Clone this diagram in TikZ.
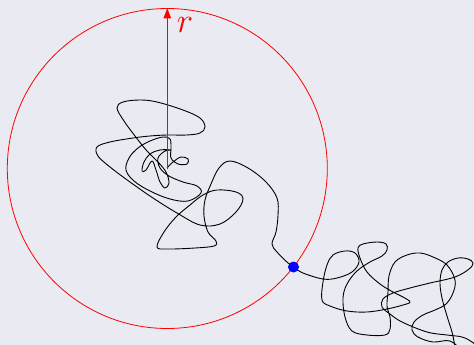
\documentclass[tikz,border=0pt]{standalone}
\usetikzlibrary{arrows.meta}
\definecolor{bgc}{HTML}{EAEAF2}
\tikzset{
  walk/.style={black, line width=0.9pt, line join=round},
  ring/.style={red, line width=0.8pt},
  radiusarrow/.style={red, line width=0.8pt, -{Triangle[length=10pt,width=7.5pt]}},
  hitdot/.style={circle, fill=blue, inner sep=0pt, minimum size=11pt},
  rlabel/.style={text=red, font=\fontsize{24.88}{25}\selectfont, scale=1.4, inner sep=0pt}
}
\begin{document}
\begin{tikzpicture}[x=1pt,y=-1pt]
\useasboundingbox (0,0) rectangle (474,345);
\fill[bgc] (0,0) rectangle (474,345);
\clip (0,0) rectangle (474,345);
\coordinate (O) at (167.3,168.5);
\coordinate (T) at (167.3,8.3);
\draw[ring] (O) circle[radius=160pt];
\draw[walk] plot[smooth, tension=0.6] coordinates {
(167,168) (173,162) (181,157) (188,159) (187,164) (178,164) (171,158)
(171,148) (170,139) (163,137) (150,141) (138,148) (129,158) (126,170)
(134,181) (150,191) (170,199) (188,201) (201,193) (197,186) (183,182)
(169,176) (160,168) (158,158) (165,151) (171,150) (160,150) (150,154)
(144,162) (142,171) (146,170) (152,161) (156,170) (160,182) (165,188)
(169,183) (166,172) (158,162) (147,151) (135,136) (124,121) (117,108)
(123,102) (140,100) (157,102) (183,110) (200,118) (205,127) (200,133)
(187,135) (167,135) (150,136) (133,138) (110,142) (97,147) (98,156)
(110,167) (130,182) (153,198) (177,213) (200,225) (220,224) (236,212)
(243,199) (236,192) (217,190) (203,195) (190,205) (176,217) (164,232)
(157,247) (168,249) (195,248) (214,246) (216,241) (208,232) (204,216)
(205,200) (211,184) (219,168) (230,161) (248,168) (266,182) (277,198)
(278,215) (276,232) (272,244) (277,252) (288,263) (293.5,267)
(303,273) (323,279) (337,278) (352,272) (359,262) (355,253) (345,251)
(333,255) (327,265) (323,282) (322,300) (330,306) (347,311) (367,312)
(387,309) (403,305) (410,302) (403,297) (393,292) (380,284) (367,272)
(360,258) (358,248) (363,244) (377,242) (386,244) (387,250) (382,256)
(370,262) (357,271) (347,284) (343,298) (345,317) (352,331) (367,335)
(385,335) (390,329) (390,317) (387,306) (388,292) (389,276) (395,262)
(407,255) (420,253) (433,257) (447,265) (455,280) (453,293) (446,304)
(435,310) (423,315) (414,322) (412,330) (418,337) (433,342) (450,341)
(462,352) (459,360) (455,346) (452,332) (447,316) (442,298) (440,283)
(442,270) (448,262) (458,258) (468,259) (473,263) (469,269) (455,277)
(430,283) (410,288) (393,293) (383,299) (382,307) (390,314) (402,322)
(427,332) (447,335) (462,337) (472,342) (485,352)
};
\draw[radiusarrow] (O) -- (T);
\node[rlabel] (rl) at (185,25) {$r$};
\node[hitdot] (hit) at (293.5,267) {};
\end{tikzpicture}
\end{document}
